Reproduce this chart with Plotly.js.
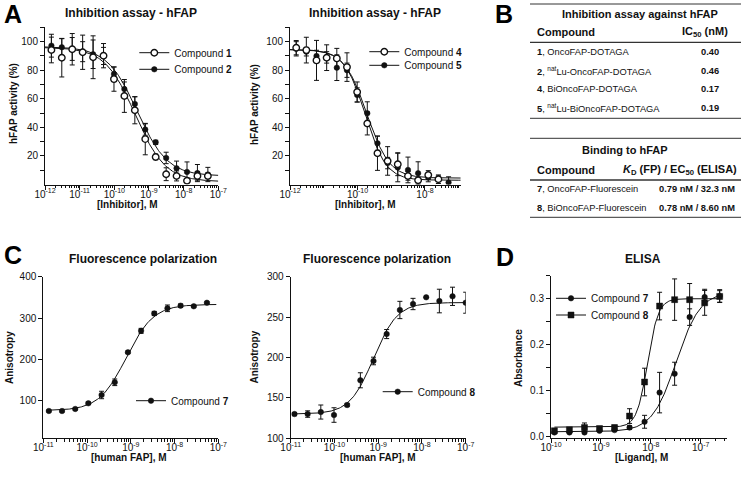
<!DOCTYPE html>
<html><head><meta charset="utf-8">
<script src="https://cdn.plot.ly/plotly-3.0.1.min.js"></script>
<style>html,body{margin:0;padding:0;background:#fff}#chart{width:742px;height:477px}</style>
</head><body><div id="chart"></div>
<script>
// ---------- DATA ----------
// Panel A (left): inhibition of hFAP, compounds 1 and 2
const concA = [1.53e-12, 3.05e-12, 6.1e-12, 1.22e-11, 2.44e-11, 4.88e-11, 9.77e-11, 1.95e-10, 3.91e-10, 7.81e-10, 1.56e-9, 3.13e-9, 6.25e-9, 1.25e-8, 2.5e-8, 5e-8];
const cmp1 = [94.2, 88.8, 94.7, 92.6, 89.1, 90.2, 73.8, 62.0, 52.0, 31.8, 19.3, 7.2, 6.0, 2.6, 6.0, 6.0];
const cmp1Err = [9, 13.5, 11, 12, 15, 8.5, 8.5, 11.5, 9.5, 11, 2, 4.5, 3.5, 1.5, 3, 2];
const cmp2 = [97.2, 96.1, 94.9, 93.0, 91.2, 90.0, 77.3, 66.8, 56.4, 38.5, 29.5, 18.6, 11.4, 8.8, 8.0, 7.0];
const cmp2Err = [8, 6, 8, 7, 10, 6, 5, 5, 5, 4, 1.5, 4, 5, 7, 6, 5];
// Panel A (right): compounds 4 and 5
const cmp4 = [95.8, 94.1, 86.9, 88.8, 88.3, 82.2, 64.8, 42.7, 21.9, 16.5, 14.2, 6.0, 3.0, 6.7, 3.7, null];
const cmp4Err = [5, 9, 14, 9, 7, 10, 7, 8, 12, 10, 8, 3, 2, 3, 3, null];
const cmp5 = [95.0, 93.0, 90.0, 89.0, 81.8, 80.0, 62.7, 49.9, 28.9, 15.0, 11.9, 10.2, 7.9, 4.9, 4.0, 1.4];
const cmp5Err = [5, 3, 4, 4, 9, 5, 5, 8, 5, 4, 10, 9, 8, 3, 2, 4];
// Panel C: fluorescence polarization
const concC1 = [1.34e-11, 2.68e-11, 5.37e-11, 1.07e-10, 2.15e-10, 4.3e-10, 8.6e-10, 1.72e-9, 3.44e-9, 6.88e-9, 1.375e-8, 2.75e-8, 5.5e-8];
const fp7 = [75.1, 75, 80, 93.7, 113.8, 144.5, 217, 269, 311, 323.5, 329.9, 328.4, 337];
const fp7Err = [2, 2, 2, 3, 9, 8, 3, 6, 5, 8, 4, 2, 2];
const concC2 = [1.22e-11, 2.44e-11, 4.88e-11, 9.77e-11, 1.95e-10, 3.91e-10, 7.81e-10, 1.56e-9, 3.13e-9, 6.25e-9, 1.25e-8, 2.5e-8, 5e-8, 1e-7];
const fp8 = [130, 130, 132.5, 128.8, 141.2, 171.8, 195.7, 229, 258.8, 266.2, 274.5, 269.9, 275.7, 267.8];
const fp8Err = [2, 4, 8.7, 9, 2, 9.3, 4.7, 5.6, 10.7, 7, 0, 14.6, 11.3, 13];
// Panel D: ELISA
const concD = [1.17e-10, 2.34e-10, 4.69e-10, 9.38e-10, 1.875e-9, 3.75e-9, 7.5e-9, 1.5e-8, 3e-8, 6e-8, 1.2e-7, 2.4e-7];
const el7 = [0.0095, 0.0095, 0.0095, 0.013, 0.0145, 0.020, 0.0326, 0.096, 0.137, 0.26, 0.3035, 0.3057];
const el7Err = [0.002, 0.002, 0.002, 0.002, 0.002, 0.004, 0.014, 0.044, 0.025, 0.018, 0.017, 0.014];
const el8 = [0.013, 0.0152, 0.020, 0.018, 0.020, 0.045, 0.119, 0.284, 0.298, 0.298, 0.291, 0.305];
const el8Err = [0.003, 0.003, 0.01, 0.004, 0.005, 0.016, 0.03, 0.03, 0.045, 0.035, 0.027, 0.0125];
// Fitted 4PL parameters: [bottom, top, EC50/IC50 (M), Hill]
const fit1 = [2, 96, 4.0e-10, 1.0];
const fit2 = [6, 96.5, 4.6e-10, 1.0];
const fit4 = [3, 94.5, 1.7e-10, 1.4];
const fit5 = [4.5, 94.5, 1.9e-10, 1.3];
const fitFP7 = [76, 333, 7.9e-10, 1.4];
const fitFP8 = [130, 268, 7.8e-10, 1.6];
const fitEL7 = [0.011, 0.315, 3.23e-8, 1.8];
const fitEL8 = [0.021, 0.300, 8.6e-9, 4.0];
// Series names
const namesA1 = ['Compound <b>1</b>', 'Compound <b>2</b>'];
const namesA2 = ['Compound <b>4</b>', 'Compound <b>5</b>'];
const namesD = ['Compound <b>7</b>', 'Compound <b>8</b>'];
// Tick labels
const xTicksA1 = [1e-12, 1e-11, 1e-10, 1e-9, 1e-8, 1e-7];
const xTextA1 = ['10<sup>-12</sup>','10<sup>-11</sup>','10<sup>-10</sup>','10<sup>-9</sup>','10<sup>-8</sup>','10<sup>-7</sup>'];
const xTicksA2 = [1e-12, 1e-10, 1e-8];
const xTextA2 = ['10<sup>-12</sup>','10<sup>-10</sup>','10<sup>-8</sup>'];
const xTicksC = [1e-11, 1e-10, 1e-9, 1e-8, 1e-7];
const xTextC = ['10<sup>-11</sup>','10<sup>-10</sup>','10<sup>-9</sup>','10<sup>-8</sup>','10<sup>-7</sup>'];
const xTicksD = [1e-10, 1e-9, 1e-8, 1e-7];
const xTextD = ['10<sup>-10</sup>','10<sup>-9</sup>','10<sup>-8</sup>','10<sup>-7</sup>'];
const yTicksA = [20, 40, 60, 80, 100];
const yTicksC1 = [100, 200, 300, 400];
const yTicksC2 = [100, 150, 200, 250, 300];
const yTicksD = [0, 0.1, 0.2, 0.3];
const yTextD = ['0.0', '0.1', '0.2', '0.3'];
// Table B text
const tbl1Title = 'Inhibition assay against hFAP';
const tbl1Head = ['Compound', 'IC<sub>50</sub> (nM)'];
const tbl1Compounds = ['<b>1</b>, OncoFAP-DOTAGA', '<b>2</b>, <sup>nat</sup>Lu-OncoFAP-DOTAGA', '<b>4</b>, BiOncoFAP-DOTAGA', '<b>5</b>, <sup>nat</sup>Lu-BiOncoFAP-DOTAGA'];
const tbl1IC50 = ['0.40', '0.46', '0.17', '0.19'];
const tbl2Title = 'Binding to hFAP';
const tbl2Head = ['Compound', '<i>K</i><sub>D</sub> (FP) / EC<sub>50</sub> (ELISA)'];
const tbl2Compounds = ['<b>7</b>, OncoFAP-Fluorescein', '<b>8</b>, BiOncoFAP-Fluorescein'];
const tbl2Values = ['0.79 nM / 32.3 nM', '0.78 nM / 8.60 nM'];

// ---------- LAYOUT HELPERS ----------
const W = 742, H = 477;
const FONT = 'Liberation Sans, Arial, Helvetica, sans-serif';
const px = x => x / W, py = y => 1 - y / H;

function fitCurve(p, sign, lo, hi) {
  const xs = [], ys = [];
  const a = Math.log10(lo), b = Math.log10(hi), n = 200;
  for (let i = 0; i <= n; i++) {
    const x = Math.pow(10, a + (b - a) * i / n);
    xs.push(x);
    ys.push(p[0] + (p[1] - p[0]) / (1 + Math.pow(x / p[2], -sign * p[3])));
  }
  return {xs, ys};
}
function minorLog(lo, hi, majors) {
  const out = [];
  for (let e = lo; e <= hi; e++) for (let k = 1; k <= 9; k++) {
    const v = k * Math.pow(10, e);
    if (!majors.some(m => Math.abs(m - v) / v < 1e-6)) out.push(v);
  }
  return out;
}

const traces = [], legendTraces = [];
function addCurve(p, sign, lo, hi, xa, ya) {
  const c = fitCurve(p, sign, lo, hi);
  traces.push({x: c.xs, y: c.ys, xaxis: xa, yaxis: ya, mode: 'lines', line: {color: '#111', width: 1}, showlegend: false, hoverinfo: 'skip'});
}
function addData(x, y, err, xa, ya, marker, name, legend) {
  traces.push({x: x, y: y, xaxis: xa, yaxis: ya, mode: 'markers', marker: marker,
    error_y: {type: 'data', array: err, visible: true, color: '#111', thickness: 1, width: 2.5},
    showlegend: false});
  legendTraces.push({x: [null], y: [null], xaxis: xa, yaxis: ya, mode: 'lines+markers', marker: marker,
    line: {color: '#111', width: 1}, name: name, legend: legend, showlegend: true});
}
const openC = {symbol: 'circle', size: 6.5, color: '#fff', line: {color: '#111', width: 1.4}};
const fillC = {symbol: 'circle', size: 5.5, color: '#111', line: {color: '#111', width: 0.5}};
const fillS = {symbol: 'square', size: 6, color: '#111', line: {color: '#111', width: 0.5}};

// A1
addCurve(fit1, -1, 1e-12, 1e-7, 'x', 'y');
addCurve(fit2, -1, 1e-12, 1e-7, 'x', 'y');
addData(concA, cmp2, cmp2Err, 'x', 'y', fillC, namesA1[1], 'legend2');
addData(concA, cmp1, cmp1Err, 'x', 'y', openC, namesA1[0], 'legend');
// A2
addCurve(fit4, -1, 1e-12, 1.15e-7, 'x2', 'y2');
addCurve(fit5, -1, 1e-12, 1.15e-7, 'x2', 'y2');
addData(concA, cmp5, cmp5Err, 'x2', 'y2', fillC, namesA2[1], 'legend4');
addData(concA, cmp4, cmp4Err, 'x2', 'y2', openC, namesA2[0], 'legend3');
// C1
addCurve(fitFP7, 1, 1.2e-11, 9e-8, 'x3', 'y3');
addData(concC1, fp7, fp7Err, 'x3', 'y3', fillC, 'Compound <b>7</b>', 'legend5');
// C2
addCurve(fitFP8, 1, 1.2e-11, 1e-7, 'x4', 'y4');
addData(concC2, fp8, fp8Err, 'x4', 'y4', fillC, 'Compound <b>8</b>', 'legend6');
// D
addCurve(fitEL7, 1, 1.17e-10, 2.6e-7, 'x5', 'y5');
addCurve(fitEL8, 1, 1.17e-10, 2.6e-7, 'x5', 'y5');
addData(concD, el7, el7Err, 'x5', 'y5', fillC, namesD[0], 'legend7');
addData(concD, el8, el8Err, 'x5', 'y5', fillS, namesD[1], 'legend8');

function xAxis(dom, range, tv, tt, minorV, anchor) {
  return {domain: dom, range: range, type: 'log', anchor: anchor, showline: true, linecolor: '#111', linewidth: 1,
    ticks: 'outside', ticklen: 4, tickwidth: 1, tickcolor: '#111', showgrid: false, zeroline: false,
    tickmode: 'array', tickvals: tv, ticktext: tt, tickfont: {size: 10, color: '#111'}, ticklabelstandoff: -4,
    minor: {tickmode: 'array', tickvals: minorV, ticks: 'outside', ticklen: 2.5, tickwidth: 1, tickcolor: '#111', showgrid: false}};
}
function yAxis(dom, range, tv, tt, minorV, anchor) {
  const a = {domain: dom, range: range, anchor: anchor, showline: true, linecolor: '#111', linewidth: 1,
    ticks: 'outside', ticklen: 4, tickwidth: 1, tickcolor: '#111', showgrid: false, zeroline: false,
    tickmode: 'array', tickvals: tv, tickfont: {size: 10, color: '#111'}};
  if (tt) a.ticktext = tt;
  if (minorV) a.minor = {tickmode: 'array', tickvals: minorV, ticks: 'outside', ticklen: 4, tickwidth: 1, tickcolor: '#111', showgrid: false};
  return a;
}
const yDomA = [py(184.5), py(27.4)];
const yDomC = [py(438.3), py(276.7)];
const layout = {
  width: W, height: H, margin: {l: 0, r: 0, t: 0, b: 0}, paper_bgcolor: '#fff', plot_bgcolor: 'rgba(0,0,0,0)',
  font: {family: FONT, color: '#111', size: 10}, showlegend: true,
  xaxis: xAxis([px(45), px(218.3)], [-12, -7], xTicksA1, xTextA1, minorLog(-12, -8, xTicksA1), 'y'),
  yaxis: yAxis(yDomA, [0, 110], yTicksA, null, [10, 30, 50, 70, 90, 110], 'x'),
  xaxis2: xAxis([px(290), px(460.7)], [-12, -6.942], xTicksA2, xTextA2, minorLog(-12, -7, xTicksA2), 'y2'),
  yaxis2: yAxis(yDomA, [0, 110], yTicksA, null, [10, 30, 50, 70, 90, 110], 'x2'),
  xaxis3: xAxis([px(43.3), px(218.3)], [-11, -7], xTicksC, xTextC, minorLog(-11, -8, xTicksC), 'y3'),
  yaxis3: yAxis(yDomC, [9, 400], yTicksC1, null, null, 'x3'),
  xaxis4: xAxis([px(290.7), px(465.7)], [-11, -7], xTicksC, xTextC, minorLog(-11, -8, xTicksC), 'y4'),
  yaxis4: yAxis(yDomC, [100, 300], yTicksC2, null, null, 'x4'),
  xaxis5: xAxis([px(551), px(727.3)], [-10, -6.467], xTicksD, xTextD, minorLog(-10, -7, xTicksD), 'y5'),
  yaxis5: yAxis([py(437.7), py(275.7)], [-0.002, 0.35], yTicksD, yTextD, [0.05, 0.15, 0.25, 0.35], 'x5'),
  annotations: [], shapes: []
};
// one legend per entry so each row sits where the reference puts it (x = marker centre)
const LEG_DX = 19;
function legendAt(mx, my) {
  return {x: px(mx - LEG_DX), y: py(my), xanchor: 'left', yanchor: 'middle', bgcolor: 'rgba(0,0,0,0)', borderwidth: 0,
    font: {size: 10, family: FONT, color: '#111'}, itemwidth: 30, tracegroupgap: 0};
}
layout.legend = legendAt(153.3, 52.7);
layout.legend2 = legendAt(153.3, 69.3);
layout.legend3 = legendAt(383.3, 51.7);
layout.legend4 = legendAt(383.3, 65.3);
layout.legend5 = legendAt(150, 400.7);
layout.legend6 = legendAt(396.7, 391.7);
layout.legend7 = legendAt(570, 298.3);
layout.legend8 = legendAt(570, 315);

const ann = layout.annotations;
function T(x, y, text, o) {
  ann.push(Object.assign({xref: 'paper', yref: 'paper', x: px(x), y: py(y), text: text, showarrow: false,
    xanchor: 'center', yanchor: 'middle', font: {size: 10, family: FONT, color: '#111'}}, o || {}));
}
// panel letters
[['A', 13, 14], ['B', 504, 14], ['C', 13, 255], ['D', 505, 257]].forEach(l => T(l[1], l[2], '<b>' + l[0] + '</b>', {font: {size: 25, family: FONT, color: '#000'}}));
// chart titles
const tf = {size: 12, family: FONT, color: '#111'};
T(130.8, 13.5, '<b>Inhibition assay - hFAP</b>', {font: tf});
T(375, 13.5, '<b>Inhibition assay - hFAP</b>', {font: tf});
T(143.3, 259, '<b>Fluorescence polarization</b>', {font: tf});
T(377.5, 259, '<b>Fluorescence polarization</b>', {font: tf});
T(643.3, 259, '<b>ELISA</b>', {font: tf});
// axis titles
const af = {size: 10, family: FONT, color: '#111'};
T(127.2, 204, '<b>[Inhibitor], M</b>', {font: af});
T(365.8, 204, '<b>[Inhibitor], M</b>', {font: af});
T(129.2, 457, '<b>[human FAP], M</b>', {font: af});
T(378, 457.5, '<b>[human FAP], M</b>', {font: af});
T(641.7, 457, '<b>[Ligand], M</b>', {font: af});
T(13, 104, '<b>hFAP activity (%)</b>', {font: af, textangle: -90});
T(255, 105, '<b>hFAP activity (%)</b>', {font: af, textangle: -90});
T(9, 358, '<b>Anisotropy</b>', {font: af, textangle: -90});
T(254, 357.5, '<b>Anisotropy</b>', {font: af, textangle: -90});
T(518, 358, '<b>Absorbance</b>', {font: af, textangle: -90});
// Table 1
const hf = {size: 11, family: FONT, color: '#111'};
const rf = {size: 9.3, family: FONT, color: '#111'};
T(640, 14, '<b>' + tbl1Title + '</b>', {font: hf});
T(535, 32, '<b>' + tbl1Head[0] + '</b>', {font: hf, xanchor: 'left'});
T(730, 32, '<b>' + tbl1Head[1] + '</b>', {font: hf, xanchor: 'right'});
const rows1 = [52.3, 70.7, 89.3, 108.3];
tbl1Compounds.forEach((c, i) => {
  T(535, rows1[i], c, {font: rf, xanchor: 'left'});
  T(710, rows1[i], '<b>' + tbl1IC50[i] + '</b>', {font: rf});
});
// Table 2
T(625, 150, '<b>' + tbl2Title + '</b>', {font: hf});
T(535, 170, '<b>' + tbl2Head[0] + '</b>', {font: hf, xanchor: 'left'});
T(739, 170, '<b>' + tbl2Head[1] + '</b>', {font: hf, xanchor: 'right'});
const rows2 = [189.3, 208.3];
tbl2Compounds.forEach((c, i) => {
  T(535, rows2[i], c, {font: rf, xanchor: 'left'});
  T(737, rows2[i], '<b>' + tbl2Values[i] + '</b>', {font: rf, xanchor: 'right'});
});
// table rules
[[4, 1], [42.3, 1.3], [118.3, 1], [138.3, 1], [180, 1.3], [217.3, 1]].forEach(r => layout.shapes.push({type: 'line', xref: 'paper', yref: 'paper',
  x0: px(530), x1: px(741), y0: py(r[0]), y1: py(r[0]), line: {color: '#333', width: r[1]}}));

Plotly.newPlot('chart', traces.concat(legendTraces), layout, {staticPlot: true, displayModeBar: false});
</script></body></html>
